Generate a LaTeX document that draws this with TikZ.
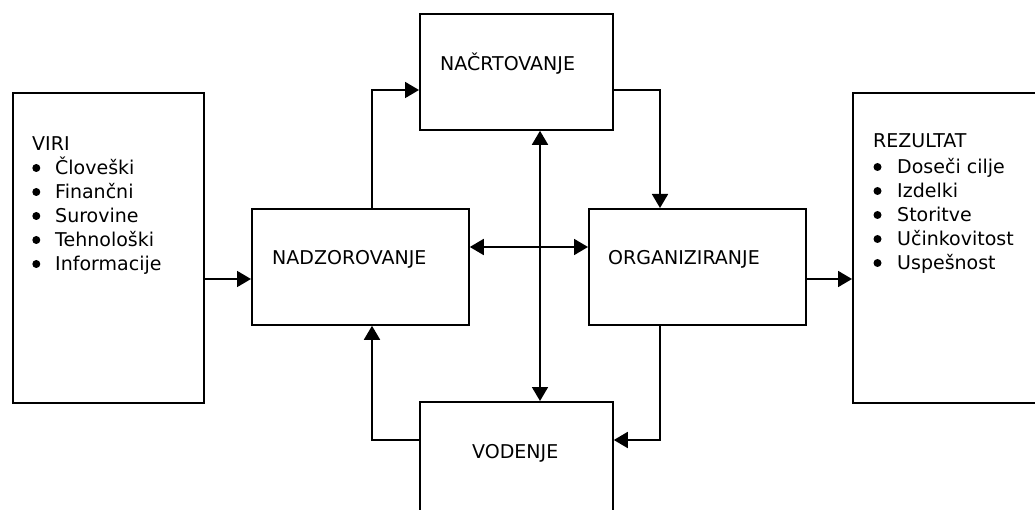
\documentclass[tikz,border=0pt]{standalone}
\usepackage{fontspec}
\setmainfont{DejaVu Sans}
\usetikzlibrary{arrows.meta}
\begin{document}
\begin{tikzpicture}[x=1pt,y=-1pt,
  box/.style={draw, line width=1.8pt, inner sep=0pt, anchor=north west},
  lbl/.style={inner sep=0pt, anchor=base west, font=\fontsize{19}{24}\selectfont},
  bul/.style={circle, fill, inner sep=0pt, minimum size=8pt},
  con/.style={line width=1.8pt, -{Triangle[length=14pt,width=16pt]}},
  dcon/.style={line width=1.8pt, {Triangle[length=14pt,width=16pt]}-{Triangle[length=14pt,width=16pt]}}]
\useasboundingbox (0,0) rectangle (1035,510);
\clip (0,0) rectangle (1035,510);
% boxes
\node[box, minimum width=191pt, minimum height=310pt] (viri) at (12,92) {};
\node[box, minimum width=217pt, minimum height=116pt] (nadz) at (251,208) {};
\node[box, minimum width=193pt, minimum height=116pt] (nacrt) at (419,13) {};
\node[box, minimum width=217pt, minimum height=116pt] (org) at (588,208) {};
\node[box, minimum width=193pt, minimum height=140pt] (vod) at (419,401) {};
\node[box, minimum width=220pt, minimum height=310pt] (rez) at (852,92) {};
% labels
\node[lbl] (tnacrt) at (440,71) {NAČRTOVANJE};
\node[lbl] (tnadz) at (272,265) {NADZOROVANJE};
\node[lbl] (torg) at (608,265) {ORGANIZIRANJE};
\node[lbl] (tvod) at (472,458) {VODENJE};
% lists
\node[lbl] (viri0) at (32,151) {VIRI};
\foreach \t [count=\i] in {Človeški,Finančni,Surovine,Tehnološki,Informacije}{
  \node[bul] (virib\i) at (36.3,144+24*\i) {};
  \node[lbl] (virit\i) at (55,151+24*\i) {\t};
}
\node[lbl] (rez0) at (873,148) {REZULTAT};
\foreach \t [count=\i] in {Doseči cilje,Izdelki,Storitve,Učinkovitost,Uspešnost}{
  \node[bul] (rezb\i) at (877.5,143+24*\i) {};
  \node[lbl] (rezt\i) at (897,150+24*\i) {\t};
}
% connectors
\coordinate (c1) at (372,90);
\coordinate (c2) at (660,90);
\coordinate (c3) at (660,440);
\coordinate (c4) at (372,440);
\draw[con] (viri.east |- 0,279) -- (nadz.west |- 0,279);
\draw[con] (org.east |- 0,279) -- (rez.west |- 0,279);
\draw[con] (nadz.north -| c1) -- (c1) -- (nacrt.west |- c1);
\draw[con] (nacrt.east |- c2) -- (c2) -- (org.north -| c2);
\draw[con] (org.south -| c3) -- (c3) -- (vod.east |- c3);
\draw[con] (vod.west |- c4) -- (c4) -- (nadz.south -| c4);
\draw[dcon] (nacrt.south -| 540,0) -- (vod.north -| 540,0);
\draw[dcon] (nadz.east |- 0,247) -- (org.west |- 0,247);
\end{tikzpicture}
\end{document}
